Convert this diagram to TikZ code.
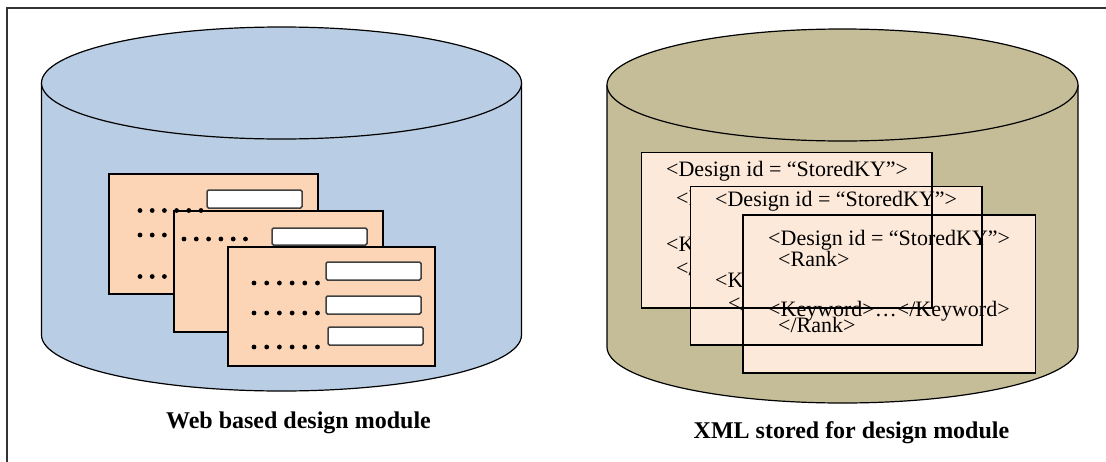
\documentclass[tikz,border=0pt]{standalone}
\usepackage{fontspec}
\setmainfont{Liberation Serif}
\usepackage{tikz}

\definecolor{dbblue}{RGB}{185,205,228}
\definecolor{dbolive}{RGB}{196,189,151}
\definecolor{formpeach}{RGB}{251,213,181}
\definecolor{xmlpaper}{RGB}{253,233,217}

\tikzset{
  cylline/.style={draw=black, line width=1.2pt},
  formsheet/.style={fill=formpeach, draw=black, line width=1.4pt},
  fieldbox/.style={fill=white, draw=black!75, line width=1.5pt, rounded corners=1.5pt},
  xmlsheet/.style={draw=black, line width=1.2pt},
  xmltext/.style={anchor=base west, inner sep=0pt, font=\fontsize{22}{24}\selectfont},
  caption/.style={anchor=base, inner sep=0pt, font=\fontsize{24}{28}\selectfont\bfseries}
}

% one row of dots in front of a field
\newcommand{\dotrow}[4]{%
  \foreach \k in {1,...,#3}
    \fill (#1+\k*#4-#4, #2) circle[radius=2.4];}

\begin{document}
\begin{tikzpicture}[x=1pt, y=-1pt]
            \useasboundingbox (0,0) rectangle (1106,461);
            \draw[black!80, line width=1.4pt] (7,480) -- (7,8) -- (1120,8);

            % left cylinder
            \fill[dbblue] (41.5,83) -- (41.5,335)
                arc[start angle=180, end angle=0, x radius=240, y radius=56]
                -- (521.5,83) arc[start angle=0, end angle=-180, x radius=240, y radius=56] -- cycle;
            \draw[cylline] (41.5,83) -- (41.5,335)
                arc[start angle=180, end angle=0, x radius=240, y radius=56] -- (521.5,83);
            \draw[cylline, fill=dbblue] (281.5,83) ellipse[x radius=240, y radius=56];

            % forms
            \draw[formsheet] (109,174) rectangle (318,294);
            \draw[fieldbox] (207,190) rectangle (302,208);
            \dotrow{140}{235}{3}{12.2}
            \dotrow{140}{276.5}{3}{12.2}
            \draw[formsheet] (174,211) rectangle (383,332);
            \dotrow{140}{210.5}{6}{12.2}
            \draw[fieldbox] (272,228) rectangle (367,245);
            \dotrow{184}{239}{6}{12.3}
            \draw[formsheet] (228,247) rectangle (435,366);
            \draw[fieldbox] (326,262) rectangle (421,280);
            \draw[fieldbox] (326,296) rectangle (421,314);
            \draw[fieldbox] (328,327) rectangle (423,345);
            \dotrow{254}{283}{6}{12.7}
            \dotrow{254}{313}{6}{12.7}
            \dotrow{254}{347}{6}{12.7}

            \node[caption] (webcap) at (298.5,428) {Web based design module};

            % right cylinder
            \fill[dbolive] (607,85) -- (607,347)
                arc[start angle=180, end angle=0, x radius=235.5, y radius=56]
                -- (1078,85) arc[start angle=0, end angle=-180, x radius=235.5, y radius=56] -- cycle;
            \draw[cylline] (607,85) -- (607,347)
                arc[start angle=180, end angle=0, x radius=235.5, y radius=56] -- (1078,85);
            \draw[cylline, fill=dbolive] (842.5,85) ellipse[x radius=235.5, y radius=56];

            % xml sheets, paper first
            \fill[xmlpaper] (641.5,152.5) rectangle (932,308);
            \node[xmltext] (aline) at (666,176) {<Design id = “StoredKY”>};
            \node[xmltext] (arank) at (676,205) {<Rank>};
            \node[xmltext] (akey) at (666,251.5) {<Keyword>…</Keyword>};
            \node[xmltext] (aend) at (676,275) {</Rank>};

            \fill[xmlpaper] (690.5,186.5) rectangle (982,345);
            \node[xmltext] (bline) at (715,206) {<Design id = “StoredKY”>};
            \node[xmltext] (bkey) at (715,287) {<Keyword>…</Keyword>};
            \node[xmltext] (bend) at (728,310) {</Rank>};

            \fill[xmlpaper] (743,215) rectangle (1035.5,373);
            \node[xmltext] (cline) at (768,245) {<Design id = “StoredKY”>};
            \node[xmltext] (crank) at (778,266.5) {<Rank>};
            \node[xmltext] (ckey) at (768,316.5) {<Keyword>…</Keyword>};
            \node[xmltext] (cend) at (778,332.5) {</Rank>};

            % sheet edges on top
            \draw[xmlsheet] (641.5,152.5) rectangle (932,308);
            \draw[xmlsheet] (690.5,186.5) rectangle (982,345);
            \draw[xmlsheet] (743,215) rectangle (1035.5,373);

            \node[caption] (xmlcap) at (851.5,438) {XML stored for design module};
          \end{tikzpicture}
\end{document}
